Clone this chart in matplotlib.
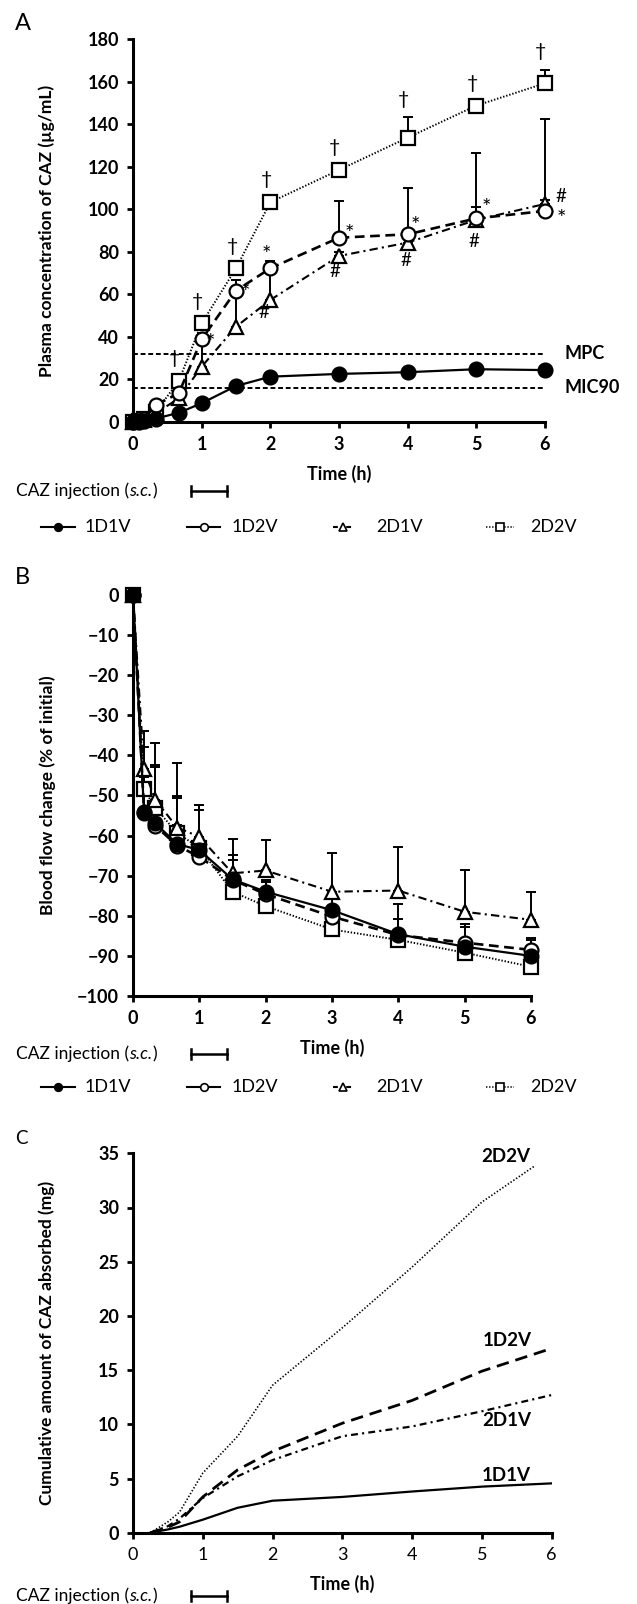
import matplotlib
matplotlib.use('Agg')
import matplotlib.pyplot as plt
from matplotlib.lines import Line2D
import numpy as np

plt.rcParams['font.family'] = ['Lato', 'DejaVu Sans']
plt.rcParams['lines.scale_dashes'] = False

# ---------------- data ----------------
series = ['1D1V', '1D2V', '2D1V', '2D2V']

# Panel A: plasma concentration (ug/mL)
t_A = [0, 0.083, 0.167, 0.333, 0.667, 1, 1.5, 2, 3, 4, 5, 6]
a_1D1V = [0, 0, 0.3, 1.5, 4.2, 8.7, 16.8, 21.2, 22.5, 23.3, 24.7, 24.3]
a_1D2V = [0, 0.5, 1.5, 7.9, 13.4, 38.8, 61.7, 72.2, 86.6, 88.2, 95.7, 99.2]
a_2D1V = [0, 0.3, 1.0, 4.0, 11.0, 25.9, 44.7, 57.3, 78.0, 84.3, 95.0, 102.5]
a_2D2V = [0, 0.3, 1.5, 4.7, 19.2, 46.3, 72.2, 103.3, 118.5, 133.7, 148.8, 159.3]
ea_1D1V = [0, 0, 0, 0.5, 1, 1.2, 1.5, 1.5, 1.5, 1.5, 1.5, 1.5]
ea_1D2V = [0, 0, 0.5, 1, 2, 3, 5, 3.6, 17.4, 21.6, 31, 43.2]
ea_2D1V = [0, 0, 0.5, 1, 2, 12, 17, 15, 2, 2, 6, 2]
ea_2D2V = [0, 0, 0.5, 1, 2, 2, 2, 2, 2, 9.6, 2, 6.3]
MPC = 32
MIC90 = 16

# Panel B: blood flow change (% of initial)
t_B = [0, 0.167, 0.333, 0.667, 1, 1.5, 2, 3, 4, 5, 6]
b_1D1V = [0, -54.3, -56.9, -62.1, -63.6, -70.9, -74.0, -78.6, -84.6, -87.7, -90.0]
b_1D2V = [0, -54.0, -57.5, -62.5, -65.3, -71.0, -74.6, -80.2, -84.8, -86.7, -88.5]
b_2D1V = [0, -43.5, -51.0, -58.0, -60.3, -69.4, -68.7, -74.0, -73.7, -79.0, -81.0]
b_2D2V = [0, -48.5, -53.0, -59.4, -63.0, -74.0, -77.6, -83.4, -86.0, -89.2, -92.7]
eb_1D1V = [0, 9, 14, 12, 10, 6, 3, 3, 7.6, 5.7, 4]
eb_1D2V = [0, 16, 15, 12, 13, 5, 3, 2, 4, 4, 3]
eb_2D1V = [0, 9.5, 14, 16, 8, 8.5, 7.7, 9.6, 10.9, 10.4, 7]
eb_2D2V = [0, 3, 2, 2, 2, 2, 2, 2, 2, 2, 2]

# Panel C: cumulative amount absorbed (mg)
t_C = [0.25, 0.5, 0.667, 1, 1.5, 2, 3, 4, 5, 6]
t_C_2D2V = [0.25, 0.5, 0.667, 1, 1.5, 2, 3, 4, 5, 5.75]
c_1D1V = [0, 0.3, 0.55, 1.2, 2.3, 2.95, 3.3, 3.8, 4.25, 4.55]
c_1D2V = [0, 0.5, 1.0, 3.3, 5.8, 7.5, 10.1, 12.2, 14.9, 17.0]
c_2D1V = [0, 0.6, 1.3, 3.2, 5.2, 6.7, 8.9, 9.8, 11.2, 12.7]
c_2D2V = [0, 1.0, 1.9, 5.5, 8.9, 13.6, 18.9, 24.5, 30.5, 33.8]

x_ticks = [0, 1, 2, 3, 4, 5, 6]
yA_ticks = [0, 20, 40, 60, 80, 100, 120, 140, 160, 180]
yB_ticks = [0, -10, -20, -30, -40, -50, -60, -70, -80, -90, -100]
yC_ticks = [0, 5, 10, 15, 20, 25, 30, 35]

# ---------------- styles ----------------
sty = {
    '1D1V': dict(marker='o', mfc='black', ls='-', lw=1.6),
    '1D2V': dict(marker='o', mfc='white', ls=(0, (7, 4)), lw=1.9),
    '2D1V': dict(marker='^', mfc='white', ls=(0, (6, 3, 1.5, 3)), lw=1.5),
    '2D2V': dict(marker='s', mfc='white', ls=(0, (1, 1.3)), lw=1.4),
}
c_ls = {
    '1D1V': dict(ls='-', lw=1.6),
    '1D2V': dict(ls=(0, (9, 5)), lw=2.0),
    '2D1V': dict(ls=(0, (5, 3, 1.5, 3)), lw=1.6),
    '2D2V': dict(ls=(0, (1, 1.4)), lw=1.2),
}

W, H = 637, 1604
fig = plt.figure(figsize=(W / 100, H / 100), dpi=100)


def fx(px):
    return px / W


def fy(py):
    return 1 - py / H


def make_axes(left, right, top, bottom):
    return fig.add_axes([fx(left), fy(bottom), (right - left) / W, (bottom - top) / H])


def style_axes(ax, yticks, ylabel, ylab_x, xlab_y, bold_x=True):
    for s in ['top', 'right']:
        ax.spines[s].set_visible(False)
    for s in ['left', 'bottom']:
        ax.spines[s].set_linewidth(2.2)
    ax.set_xticks(x_ticks, labels=[str(v) for v in x_ticks],
                  fontweight='bold' if bold_x else 'normal',
                  fontsize=13 if bold_x else 13)
    ax.set_yticks(yticks, labels=[str(v).replace('-', '\u2212') for v in yticks],
                  fontweight='bold', fontsize=13)
    ax.tick_params(axis='both', direction='out', length=4, width=2)
    ax.tick_params(axis='y', pad=6)
    ax.tick_params(axis='x', pad=6)
    ax.set_xlabel('Time (h)', fontweight='bold', fontsize=13)
    ax.xaxis.set_label_coords(0.5, xlab_y)
    ax.set_ylabel(ylabel, fontweight='bold', fontsize=12.5, va='center')
    ax.yaxis.set_label_coords(ylab_x, 0.5)


def plot_series(ax, t, data, errs):
    for name in ['2D2V', '2D1V', '1D2V', '1D1V']:
        y = np.array(data[name])
        e = np.array(errs[name])
        ax.errorbar(t, y, yerr=[np.zeros_like(e), e], fmt='none', ecolor='black',
                    elinewidth=1.4, capsize=3.5, capthick=1.4, zorder=2, clip_on=False)
    for name in ['2D2V', '2D1V', '1D2V', '1D1V']:
        s = sty[name]
        ax.plot(t, data[name], color='black', ls=s['ls'], lw=s['lw'], marker=s['marker'],
                ms=10, mfc=s['mfc'], mec='black', mew=1.6, zorder=3, clip_on=False)


def caz_row(y_px):
    t1 = fig.text(fx(16), fy(y_px), 'CAZ injection (', fontsize=12.5, va='baseline', ha='left')
    t2 = axA.annotate('s.c.', xy=(1, 0), xycoords=t1, va='bottom', ha='left',
                      fontsize=12.5, style='italic', annotation_clip=False)
    axA.annotate(')', xy=(1, 0), xycoords=t2, va='bottom', ha='left',
                 fontsize=12.5, annotation_clip=False)
    yb = y_px - 5
    fig.add_artist(Line2D([fx(191), fx(227)], [fy(yb), fy(yb)], transform=fig.transFigure,
                          color='black', lw=1.8))
    for xe in (191, 227):
        fig.add_artist(Line2D([fx(xe), fx(xe)], [fy(yb - 5), fy(yb + 5)],
                              transform=fig.transFigure, color='black', lw=1.8))


leg_x = {'1D1V': (41, 75, 85), '1D2V': (187, 220, 232), '2D1V': (333, 352, 376),
         '2D2V': (486, 514, 530)}
leg_ls = {'1D1V': '-', '1D2V': '-', '2D1V': (0, (3.5, 6)), '2D2V': (0, (1, 1.2))}


def legend_row(y_px):
    for name in series:
        x0, x1, xt = leg_x[name]
        s = sty[name]
        fig.add_artist(Line2D([fx(x0), fx(x1)], [fy(y_px), fy(y_px)], transform=fig.transFigure,
                              color='black', lw=1.5 if name != '2D2V' else 1.1, ls=leg_ls[name]))
        fig.add_artist(Line2D([fx((x0 + x1) / 2)], [fy(y_px)], transform=fig.transFigure,
                              marker=s['marker'], ms=5.5, mfc=s['mfc'], mec='black', mew=1.2,
                              ls='none'))
        fig.text(fx(xt), fy(y_px), name, fontsize=13, va='center', ha='left')


# ---------------- Panel A ----------------
axA = make_axes(133, 545, 39.3, 421.7)
dataA = {'1D1V': a_1D1V, '1D2V': a_1D2V, '2D1V': a_2D1V, '2D2V': a_2D2V}
errA = {'1D1V': ea_1D1V, '1D2V': ea_1D2V, '2D1V': ea_2D1V, '2D2V': ea_2D2V}
axA.set_xlim(0, 6)
axA.set_ylim(0, 180)
axA.axhline(MPC, color='black', lw=1.4, ls=(0, (3.5, 2)), zorder=1)
axA.axhline(MIC90, color='black', lw=1.4, ls=(0, (3.5, 2)), zorder=1)
axA.text(1.048, MPC, 'MPC', transform=axA.get_yaxis_transform(), fontweight='bold',
         fontsize=13, va='center', ha='left')
axA.text(1.048, MIC90, 'MIC90', transform=axA.get_yaxis_transform(), fontweight='bold',
         fontsize=13, va='center', ha='left')
plot_series(axA, t_A, dataA, errA)
style_axes(axA, yA_ticks, 'Plasma concentration of CAZ (\u00b5g/mL)', -0.209, -0.112)

# significance marks
for i in range(4, 12):
    top = dataA['2D2V'][i] + errA['2D2V'][i]
    axA.annotate('\u2020', xy=(t_A[i], top), xytext=(-4, 18), textcoords='offset pixels',
                 ha='center', va='center', fontsize=14, annotation_clip=False)
marks = [('1D2V', 5, '*', 9, -4), ('1D2V', 6, '*', 9, -2), ('1D2V', 7, '*', -4, 13),
         ('1D2V', 8, '*', 10, 4), ('1D2V', 9, '*', 8, 8), ('1D2V', 10, '*', 10, 10),
         ('1D2V', 11, '*', 16, -8),
         ('2D1V', 7, '#', -6, -13), ('2D1V', 8, '#', -4, -16), ('2D1V', 9, '#', -2, -18),
         ('2D1V', 10, '#', -2, -22), ('2D1V', 11, '#', 16, 7)]
for name, i, sym, dx, dy in marks:
    axA.annotate(sym, xy=(t_A[i], dataA[name][i]), xytext=(dx, dy), textcoords='offset pixels',
                 ha='center', va='center', fontsize=16 if sym == '*' else 13.5,
                 annotation_clip=False)

# ---------------- Panel B ----------------
axB = make_axes(133, 531, 595, 996)
dataB = {'1D1V': b_1D1V, '1D2V': b_1D2V, '2D1V': b_2D1V, '2D2V': b_2D2V}
errB = {'1D1V': eb_1D1V, '1D2V': eb_1D2V, '2D1V': eb_2D1V, '2D2V': eb_2D2V}
axB.set_xlim(0, 6)
axB.set_ylim(-100, 0)
plot_series(axB, t_B, dataB, errB)
style_axes(axB, yB_ticks, 'Blood flow change (% of initial)', -0.215, -0.1065)

# ---------------- Panel C ----------------
axC = make_axes(133, 551.6, 1153.3, 1532.7)
dataC = {'1D1V': (t_C, c_1D1V), '1D2V': (t_C, c_1D2V), '2D1V': (t_C, c_2D1V),
         '2D2V': (t_C_2D2V, c_2D2V)}
axC.set_xlim(0, 6)
axC.set_ylim(0, 35)
lab_off = {'1D1V': (-21, 8), '1D2V': (-20, 8), '2D1V': (-20, -25), '2D2V': (-4, 10)}
for name in series:
    tt, vv = dataC[name]
    axC.plot(tt, vv, color='black', ls=c_ls[name]['ls'], lw=c_ls[name]['lw'], zorder=3)
    axC.annotate(name, xy=(tt[-1], vv[-1]), xytext=lab_off[name], textcoords='offset pixels',
                 ha='right', va='center', fontweight='bold', fontsize=13.5, annotation_clip=False)
style_axes(axC, yC_ticks, 'Cumulative amount of CAZ absorbed (mg)', -0.205, -0.1107, bold_x=False)

# ---------------- panel letters, injection bars, legends ----------------
fig.text(fx(15), fy(23), 'A', fontsize=17, va='center', ha='left')
fig.text(fx(15), fy(577), 'B', fontsize=17, va='center', ha='left')
fig.text(fx(15), fy(1139), 'C', fontsize=13.5, va='center', ha='left')

caz_row(496)
caz_row(1059)
caz_row(1601)
legend_row(526.7)
legend_row(1086.7)

fig.savefig('out.png', dpi=100)
